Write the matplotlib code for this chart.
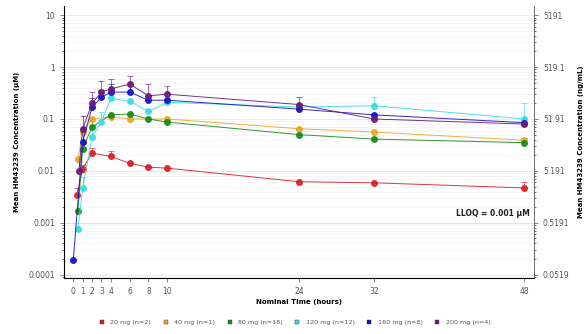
import matplotlib
matplotlib.use("Agg")
import matplotlib.pyplot as plt
from matplotlib.ticker import LogLocator, NullFormatter

# dose groups
labels = ["20 mg (n=2)", "40 mg (n=1)", "80 mg (n=18)", "120 mg (n=12)", "160 mg (n=8)", "200 mg (n=4)"]
colors = ["#d8202a", "#e8a828", "#1a8a1a", "#38dce6", "#1414c8", "#6a1a78"]

t_red = [0.4, 1, 2, 4, 6, 8, 10, 24, 32, 48]
c_red = [0.0035, 0.011, 0.022, 0.019, 0.014, 0.0118, 0.0113, 0.0062, 0.0059, 0.0047]
e_red = [0.0012, 0.002, 0.006, 0.005, 0.0, 0.0, 0.0, 0.0, 0.0, 0.0015]

t_yel = [0.5, 1, 2, 4, 6, 10, 24, 32, 48]
c_yel = [0.017, 0.056, 0.1, 0.11, 0.1, 0.1, 0.065, 0.056, 0.039]
e_yel = [0, 0, 0, 0, 0, 0, 0, 0, 0]

t_grn = [0.5, 1, 2, 4, 6, 8, 10, 24, 32, 48]
c_grn = [0.0017, 0.027, 0.07, 0.12, 0.125, 0.1, 0.087, 0.05, 0.041, 0.035]
e_grn = [0.0, 0.008, 0.02, 0.0, 0.0, 0.0, 0.0, 0.0, 0.0, 0.008]

t_cyn = [0.5, 1, 2, 3, 4, 6, 8, 10, 24, 32, 48]
c_cyn = [0.00075, 0.0047, 0.045, 0.088, 0.25, 0.22, 0.14, 0.21, 0.17, 0.18, 0.1]
e_cyn = [0.0, 0.003, 0.03, 0.05, 0.1, 0.0, 0.0, 0.0, 0.0, 0.08, 0.1]

t_blu = [0, 1, 2, 3, 4, 6, 8, 10, 24, 32, 48]
c_blu = [0.00019, 0.036, 0.17, 0.26, 0.33, 0.33, 0.23, 0.23, 0.155, 0.12, 0.085]
e_blu = [0.0, 0.02, 0.08, 0.1, 0.15, 0.15, 0.0, 0.0, 0.0, 0.0, 0.02]

t_pur = [0.6, 1, 2, 3, 4, 6, 8, 10, 24, 32, 48]
c_pur = [0.01, 0.064, 0.2, 0.33, 0.38, 0.47, 0.28, 0.3, 0.19, 0.1, 0.08]
e_pur = [0.005, 0.05, 0.13, 0.2, 0.2, 0.2, 0.2, 0.13, 0.07, 0.0, 0.0]

series = [
    (t_red, c_red, e_red),
    (t_yel, c_yel, e_yel),
    (t_grn, c_grn, e_grn),
    (t_cyn, c_cyn, e_cyn),
    (t_blu, c_blu, e_blu),
    (t_pur, c_pur, e_pur),
]

xticks = [0, 1, 2, 3, 4, 6, 8, 10, 24, 32, 48]
yticks = [0.0001, 0.001, 0.01, 0.1, 1, 10]
yticklabels = ["0.0001", "0.001", "0.01", "0.1", "1", "10"]
ng_labels = ["0.0519", "0.5191", "5.191", "51.91", "519.1", "5191"]

fig = plt.figure(figsize=(5.86, 3.34), dpi=100)
ax = fig.add_axes([0.109, 0.168, 0.802, 0.814])

for (t, c, e), col, lab in zip(series, colors, labels):
    ax.errorbar(t, c, yerr=[[0] * len(e), e], color=col, lw=0.7, marker="o",
                ms=4, mec=col, mfc=col, ecolor=col, elinewidth=0.5,
                capsize=2.5, capthick=0.5, label=lab, alpha=0.9)

ax.set_yscale("log")
ax.set_ylim(8.7e-5, 15)
ax.set_xlim(-1, 49)
ax.set_yticks(yticks)
ax.set_yticklabels(yticklabels)
ax.yaxis.set_minor_locator(LogLocator(base=10, subs=range(2, 10), numticks=20))
ax.yaxis.set_minor_formatter(NullFormatter())
ax.set_xticks(xticks)
ax.set_xticklabels([str(x) for x in xticks])
ax.tick_params(labelsize=5.5, length=3, width=0.5, colors="#555555")
ax.tick_params(which="minor", length=1.5, width=0.4)

ax.grid(True, which="major", axis="y", color="#e6e6e6", lw=0.6)
ax.grid(True, which="minor", axis="y", color="#f2f2f2", lw=0.5)
ax.axhline(0.001, color="#d0d0d0", lw=0.8, zorder=0)
ax.set_axisbelow(True)
ax.spines["top"].set_visible(False)
for s in ["left", "right", "bottom"]:
    ax.spines[s].set_color("#666666")
    ax.spines[s].set_linewidth(0.6)

ax.text(48.6, 0.00125, "LLOQ = 0.001 \u00b5M", ha="right", va="bottom",
        fontsize=5.5, fontweight="bold", color="#222222")

ax.set_xlabel("Nominal Time (hours)", fontsize=5, fontweight="bold", labelpad=2)
ax.set_ylabel("Mean HM43239 Concentration (\u00b5M)", fontsize=5, fontweight="bold", labelpad=6)

ax2 = ax.twinx()
ax2.set_yscale("log")
ax2.set_ylim(ax.get_ylim())
ax2.set_yticks(yticks)
ax2.set_yticklabels(ng_labels)
ax2.yaxis.set_minor_locator(LogLocator(base=10, subs=range(2, 10), numticks=20))
ax2.yaxis.set_minor_formatter(NullFormatter())
ax2.tick_params(labelsize=5.5, length=3, width=0.5, colors="#555555")
ax2.tick_params(which="minor", length=1.5, width=0.4)
ax2.spines["top"].set_visible(False)
ax2.spines["right"].set_color("#666666")
ax2.spines["right"].set_linewidth(0.6)
ax2.set_ylabel("Mean HM43239 Concentration (ng/mL)", fontsize=5, fontweight="bold", labelpad=6)

handles = [plt.Line2D([], [], ls="none", marker="s", ms=3.5, color=c, mec="#333333", mew=0.3)
           for c in colors]
fig.legend(handles, labels, loc="center", bbox_to_anchor=(0.5, 0.035), ncol=6,
           frameon=False, fontsize=4.6, handletextpad=0.3, columnspacing=1.3,
           labelcolor="#555555")

fig.savefig("out.png", dpi=100)
